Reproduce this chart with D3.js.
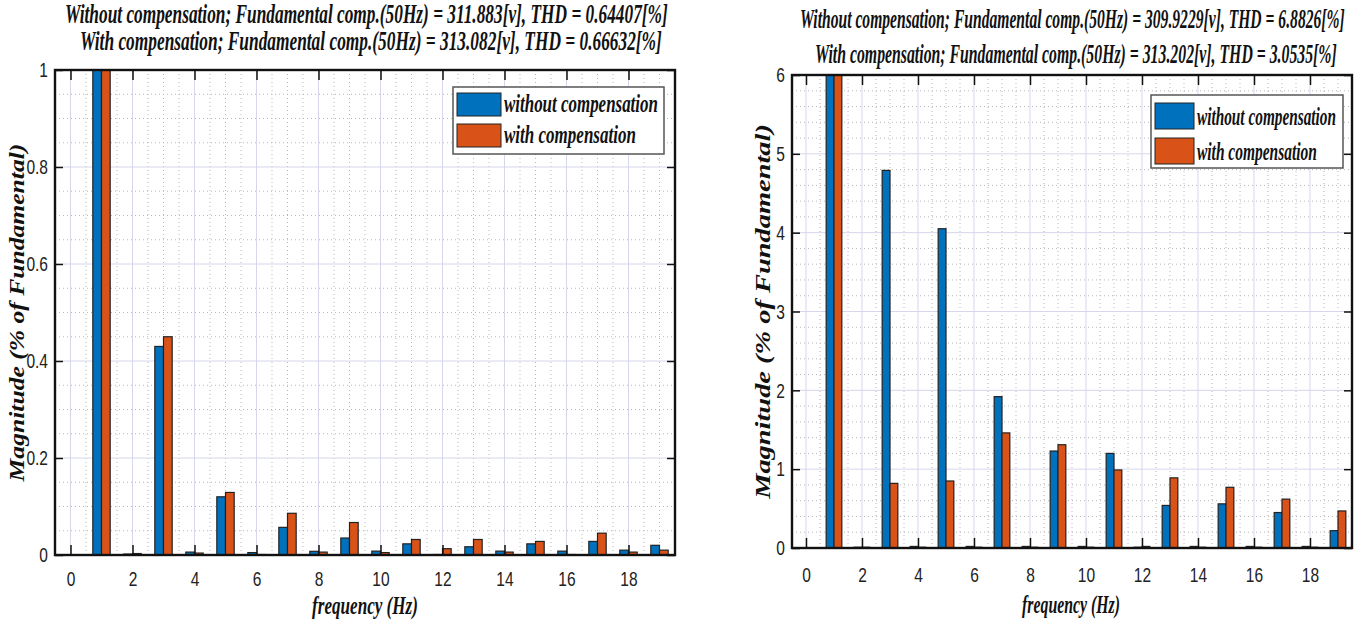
<!DOCTYPE html>
<html>
<head>
<meta charset="utf-8">
<script src="https://cdn.jsdelivr.net/npm/d3@7"></script>
<style>
  body { margin: 0; background: #fff; }
  svg { display: block; }
  .tick text { font-family: "Liberation Sans", Arial, sans-serif; font-size: 21px; fill: #222; }
  .serif { font-family: "Liberation Serif", "Times New Roman", serif; font-style: italic; font-weight: bold; fill: #111; }
</style>
</head>
<body>
<svg id="canvas" width="1365" height="625"></svg>
<script>
// harmonic order on the x axis
const harmonics = [0, 1, 2, 3, 4, 5, 6, 7, 8, 9, 10, 11, 12, 13, 14, 15, 16, 17, 18, 19];
const xTicks = [0, 2, 4, 6, 8, 10, 12, 14, 16, 18];
const seriesNames = ["without compensation", "with compensation"];

// left spectrum (% of fundamental), fundamental bar runs off the top
const leftWithout = [0, 100, 0.002, 0.43, 0.006, 0.12, 0.005, 0.057, 0.0076, 0.035, 0.008, 0.023, 0.001, 0.017, 0.008, 0.023, 0.008, 0.028, 0.01, 0.02];
const leftWith = [0, 100, 0.003, 0.45, 0.004, 0.129, 0.001, 0.086, 0.006, 0.067, 0.005, 0.032, 0.013, 0.032, 0.006, 0.028, 0.001, 0.045, 0.006, 0.01];
const leftYTicks = [0, 0.2, 0.4, 0.6, 0.8, 1];
const leftTitle = [
  "Without compensation; Fundamental comp.(50Hz) = 311.883[v],  THD = 0.64407[%]",
  "With compensation; Fundamental comp.(50Hz) = 313.082[v],  THD = 0.66632[%]"
];

// right spectrum
const rightWithout = [0, 100, 0.01, 4.79, 0.02, 4.05, 0.02, 1.92, 0.02, 1.23, 0.02, 1.2, 0.01, 0.54, 0.02, 0.56, 0.02, 0.45, 0.02, 0.22];
const rightWith = [0, 100, 0.01, 0.82, 0.01, 0.85, 0.01, 1.46, 0.01, 1.31, 0.01, 0.99, 0.02, 0.89, 0.01, 0.77, 0.01, 0.62, 0.01, 0.47];
const rightYTicks = [0, 1, 2, 3, 4, 5, 6];
const rightTitle = [
  "Without compensation; Fundamental comp.(50Hz) = 309.9229[v],  THD = 6.8826[%]",
  "With compensation; Fundamental comp.(50Hz) = 313.202[v],  THD = 3.0535[%]"
];

const colors = ["#0072BD", "#D95319"];

let canvas = d3.select("#canvas");

// squeeze a text horizontally (the reference uses condensed type)
let squeeze = (sel, pre, width, ratio) => {
  let natural = sel.node().getComputedTextLength();
  let sx = width ? width / natural : ratio;
  sel.attr("transform", pre + " scale(" + sx + ",1)");
};

let drawPanel = (p) => {
  let g = canvas.append("g");
  let x = d3.scaleLinear().domain([-0.5, 19.5]).range([p.left, p.right]);
  let y = d3.scaleLinear().domain([0, p.yMax]).range([p.bottom, p.top]);

  // minor grid (dotted)
  let xMinor = d3.range(-0.5, 19.51, 0.5).filter((v) => v % 2 !== 0);
  let yMinor = d3.range(0, p.yMax + 1e-9, p.yMinor).filter((v) => !p.yTicks.some((t) => Math.abs(t - v) < 1e-9));
  g.selectAll(".xminor").data(xMinor).enter().append("line")
    .attr("x1", (d) => x(d)).attr("x2", (d) => x(d))
    .attr("y1", p.top).attr("y2", p.bottom)
    .attr("stroke", "#b8b8b8").attr("stroke-dasharray", "1,3");
  g.selectAll(".yminor").data(yMinor).enter().append("line")
    .attr("x1", p.left).attr("x2", p.right)
    .attr("y1", (d) => y(d)).attr("y2", (d) => y(d))
    .attr("stroke", "#b8b8b8").attr("stroke-dasharray", "1,3");

  // major grid
  g.selectAll(".xmajor").data(xTicks).enter().append("line")
    .attr("x1", (d) => x(d)).attr("x2", (d) => x(d))
    .attr("y1", p.top).attr("y2", p.bottom)
    .attr("stroke", "#d6d6ec");
  g.selectAll(".ymajor").data(p.yTicks).enter().append("line")
    .attr("x1", p.left).attr("x2", p.right)
    .attr("y1", (d) => y(d)).attr("y2", (d) => y(d))
    .attr("stroke", "#d6d6ec");

  // bars
  g.append("clipPath").attr("id", "clip" + p.id)
    .append("rect").attr("x", p.left).attr("y", p.top)
    .attr("width", p.right - p.left).attr("height", p.bottom - p.top);
  let bw = 0.28;
  let bars = g.append("g").attr("clip-path", "url(#clip" + p.id + ")");
  [p.without, p.with].forEach((vals, s) => {
    bars.selectAll(".bar" + s).data(harmonics).enter().append("rect")
      .attr("x", (h) => x(h + (s === 0 ? -bw : 0)))
      .attr("width", x(bw) - x(0))
      .attr("y", (h) => y(vals[h]))
      .attr("height", (h) => y(0) - y(vals[h]))
      .attr("fill", colors[s])
      .attr("stroke", "#222")
      .attr("stroke-width", 1.2);
  });

  // axes with inward ticks
  let bottomAxis = d3.axisBottom(x).tickValues(xTicks).tickSize(-10).tickPadding(p.xPad).tickFormat(d3.format("d"));
  g.append("g").attr("transform", "translate(0," + p.bottom + ")").call(bottomAxis);
  g.append("g").attr("transform", "translate(0," + p.top + ")")
    .call(d3.axisTop(x).tickValues(xTicks).tickSize(-10).tickFormat(""));
  let leftAxis = d3.axisLeft(y).tickValues(p.yTicks).tickSize(-8).tickPadding(7).tickFormat(d3.format("~g"));
  g.append("g").attr("transform", "translate(" + p.left + ",0)").call(leftAxis);
  g.append("g").attr("transform", "translate(" + p.right + ",0)")
    .call(d3.axisRight(y).tickValues(p.yTicks).tickSize(-8).tickFormat(""));
  g.selectAll(".domain").remove();
  g.selectAll(".tick line").attr("stroke", "#111").attr("stroke-width", 1.5);
  g.selectAll(".tick text").each(function () {
    let t = d3.select(this);
    let tx = +t.attr("x") || 0, ty = +t.attr("y") || 0;
    t.attr("x", 0).attr("y", 0);
    squeeze(t, "translate(" + tx + "," + ty + ")", null, 0.74);
  });

  // frame
  g.append("rect").attr("x", p.left).attr("y", p.top)
    .attr("width", p.right - p.left).attr("height", p.bottom - p.top)
    .attr("fill", "none").attr("stroke", "#111").attr("stroke-width", 2.4);

  // titles
  p.title.forEach((t, i) => {
    let tt = g.append("text").attr("class", "serif")
      .attr("font-size", 27)
      .text(t);
    squeeze(tt, "translate(" + p.titleX[i] + "," + p.titleY[i] + ")", p.titleW[i]);
  });

  // axis labels
  let cy = (p.top + p.bottom) / 2;
  let yl = g.append("text").attr("class", "serif")
    .attr("text-anchor", "middle").attr("font-size", 21)
    .text("Magnitude (% of Fundamental)");
  squeeze(yl, "translate(" + p.yLabelX + "," + cy + ") rotate(-90)", p.yLabelW);
  let xl = g.append("text").attr("class", "serif")
    .attr("text-anchor", "middle").attr("font-size", 25)
    .text("frequency (Hz)");
  squeeze(xl, "translate(" + p.xLabelX + "," + p.xLabelY + ")", p.xLabelW);

  // legend
  let L = p.legend;
  let lg = g.append("g");
  lg.append("rect").attr("x", L.x).attr("y", L.y).attr("width", L.w).attr("height", L.h)
    .attr("fill", "#fff").attr("stroke", "#555").attr("stroke-width", 1.5);
  seriesNames.forEach((name, i) => {
    lg.append("rect").attr("x", L.x + 4).attr("y", L.y + L.rows[i])
      .attr("width", L.sw[0]).attr("height", L.sw[1])
      .attr("fill", colors[i]).attr("stroke", "#222");
    let lt = lg.append("text").attr("class", "serif")
      .attr("font-size", 26)
      .text(name);
    squeeze(lt, "translate(" + (L.x + 7 + L.sw[0]) + "," + (L.y + L.rows[i] + L.sw[1] - 4) + ")", L.tw[i]);
  });
};

drawPanel({
  id: "L", left: 55, right: 675, top: 70, bottom: 555,
  yMax: 1, yTicks: leftYTicks, yMinor: 0.05, xPad: 16,
  without: leftWithout, with: leftWith,
  title: leftTitle, titleX: [65, 80], titleY: [23, 50], titleW: [603, 582],
  yLabelX: 24, yLabelW: 338, xLabelX: 365, xLabelY: 614, xLabelW: 106,
  legend: { x: 453, y: 87, w: 211, h: 67, sw: [44, 23], rows: [6, 37], tw: [154, 132] }
});

drawPanel({
  id: "R", left: 792, right: 1352, top: 75, bottom: 548,
  yMax: 6, yTicks: rightYTicks, yMinor: 0.2, xPad: 19,
  without: rightWithout, with: rightWith,
  title: rightTitle, titleX: [800, 815], titleY: [28, 63], titleW: [545, 522],
  yLabelX: 770, yLabelW: 375, xLabelX: 1071, xLabelY: 613, xLabelW: 98,
  legend: { x: 1151, y: 95, w: 192, h: 73, sw: [39, 26], rows: [8, 43], tw: [139, 120] }
});
</script>
</body>
</html>
